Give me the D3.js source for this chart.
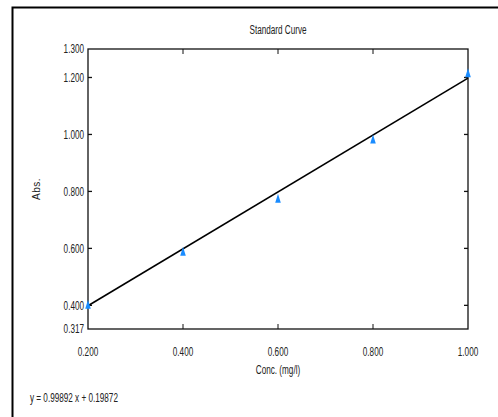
<!DOCTYPE html>
<html>
<head>
<meta charset="utf-8">
<script src="https://cdn.jsdelivr.net/npm/d3@7"></script>
<style>
  body { margin: 0; background: #fff; }
  text { font-family: "Liberation Sans", Arial, sans-serif; fill: #222; font-size: 12px; }
</style>
</head>
<body>
<svg id="main-svg"></svg>
<script>
let conc = [0.2, 0.4, 0.6, 0.8, 1.0];
let abs = [0.402, 0.588, 0.774, 0.982, 1.215];
let slope = 0.99892;
let intercept = 0.19872;
let xTicks = [0.2, 0.4, 0.6, 0.8, 1.0];
let yTicks = [0.317, 0.4, 0.6, 0.8, 1.0, 1.2, 1.3];

let width = 498;
let height = 417;
let plot = { left: 88, top: 49, right: 468, bottom: 329 };
let squeeze = 0.68; // fake the narrow font

let svg = d3.select('#main-svg')
  .attr('width', width)
  .attr('height', height);

// text drawn squeezed horizontally, like Arial Narrow
function narrowText(parent, px, py, anchor, str) {
  return parent.append('text')
    .attr('transform', `translate(${px},${py}) scale(${squeeze},1)`)
    .attr('text-anchor', anchor)
    .attr('dy', '0.35em')
    .text(str);
}

// outer frame (only left and top edges visible)
svg.append('path')
  .attr('d', `M12.5,${height} V7.5 H${width}`)
  .attr('fill', 'none')
  .attr('stroke', '#000')
  .attr('stroke-width', 2);

let x = d3.scaleLinear().domain([0.2, 1.0]).range([plot.left, plot.right]);
let y = d3.scaleLinear().domain([0.317, 1.3]).range([plot.bottom, plot.top]);

let g = svg.append('g');

// plot box
g.append('rect')
  .attr('x', plot.left)
  .attr('y', plot.top)
  .attr('width', plot.right - plot.left)
  .attr('height', plot.bottom - plot.top)
  .attr('fill', 'none')
  .attr('stroke', '#111')
  .attr('stroke-width', 1.3);

// inner ticks on all four sides
let innerX = xTicks.slice(1, -1);
let innerY = yTicks.slice(1, -1);
g.selectAll('.tick-top').data(innerX).enter().append('line')
  .attr('x1', d => x(d)).attr('x2', d => x(d))
  .attr('y1', plot.top).attr('y2', plot.top + 5)
  .attr('stroke', '#111');
g.selectAll('.tick-bottom').data(innerX).enter().append('line')
  .attr('x1', d => x(d)).attr('x2', d => x(d))
  .attr('y1', plot.bottom).attr('y2', plot.bottom - 5)
  .attr('stroke', '#111');
g.selectAll('.tick-left').data(innerY).enter().append('line')
  .attr('x1', plot.left).attr('x2', plot.left + 4)
  .attr('y1', d => y(d)).attr('y2', d => y(d))
  .attr('stroke', '#111').attr('stroke-width', 1.3);
g.selectAll('.tick-right').data(innerY).enter().append('line')
  .attr('x1', plot.right).attr('x2', plot.right - 4)
  .attr('y1', d => y(d)).attr('y2', d => y(d))
  .attr('stroke', '#111').attr('stroke-width', 1.3);

// tick labels
yTicks.forEach(d => narrowText(g, plot.left - 4, y(d), 'end', d3.format('.3f')(d)));
xTicks.forEach(d => narrowText(g, x(d), plot.bottom + 23, 'middle', d3.format('.3f')(d)));

// fit line
let line = d3.line().x(d => x(d)).y(d => y(slope * d + intercept));
g.append('path')
  .datum([0.2, 1.0])
  .attr('d', line)
  .attr('fill', 'none')
  .attr('stroke', '#000')
  .attr('stroke-width', 1.6);

// markers
g.selectAll('.pt').data(conc).enter().append('path')
  .attr('transform', (d, i) => `translate(${x(d)},${y(abs[i])})`)
  .attr('d', 'M0,-5 L2.8,4 L-2.8,4 Z')
  .attr('fill', '#1a8cff');

// titles
narrowText(svg, (plot.left + plot.right) / 2, 30, 'middle', 'Standard Curve');
narrowText(svg, (plot.left + plot.right) / 2, 370, 'middle', 'Conc. (mg/l)');

svg.append('text')
  .attr('transform', `translate(36,${(plot.top + plot.bottom) / 2}) rotate(-90)`)
  .attr('text-anchor', 'middle')
  .attr('dy', '0.35em')
  .style('font-size', '10px')
  .style('letter-spacing', '0.5px')
  .text('Abs.');

narrowText(svg, 30, 398, 'start', `y = ${slope} x + ${intercept}`);
</script>
</body>
</html>
